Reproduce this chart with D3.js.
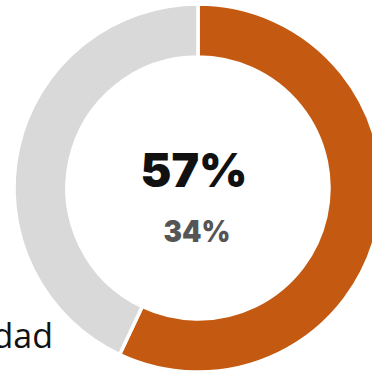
<!DOCTYPE html>
<html><head><meta charset="utf-8">
<script src="https://cdn.jsdelivr.net/npm/d3@7"></script>
<style>html,body{margin:0;padding:0;background:#fff;overflow:hidden}</style>
</head><body>
<svg id="c" width="372" height="373"></svg>
<script>
const categories = ["Sí", "No"];
const values = [57, 43];
const colors = ["#C45A11", "#D9D9D9"];
const mainLabel = "57%";
const subLabel = "34%";
const sideLabel = "dad";

const svg = d3.select("#c");
const cx = 198, cy = 188, outerR = 184, innerR = 131;
const g = svg.append("g").attr("transform", `translate(${cx},${cy})`);
const pie = d3.pie().sort(null).value(d => d)(values);
const arc = d3.arc().innerRadius(innerR).outerRadius(outerR);
g.selectAll("path").data(pie).join("path")
  .attr("d", arc)
  .attr("fill", (d, i) => colors[i])
  .attr("stroke", "#fff").attr("stroke-width", 3.5);

g.append("text").attr("x", -4).attr("y", -1)
  .attr("text-anchor", "middle")
  .attr("textLength", 107).attr("lengthAdjust", "spacingAndGlyphs")
  .style("font-family", "Inter, Roboto, sans-serif").style("font-weight", 900)
  .style("font-size", "47px").attr("fill", "#111").text(mainLabel);
g.append("text").attr("x", -1).attr("y", 54)
  .attr("text-anchor", "middle")
  .attr("textLength", 67).attr("lengthAdjust", "spacingAndGlyphs")
  .style("font-family", "Inter, Roboto, sans-serif").style("font-weight", 900)
  .style("font-size", "30px").attr("fill", "#555").text(subLabel);

svg.append("text").attr("x", 53).attr("y", 348)
  .attr("text-anchor", "end")
  .style("font-family", "'Open Sans', sans-serif")
  .style("font-size", "34px").attr("fill", "#111").text(sideLabel);
</script>
</body></html>
